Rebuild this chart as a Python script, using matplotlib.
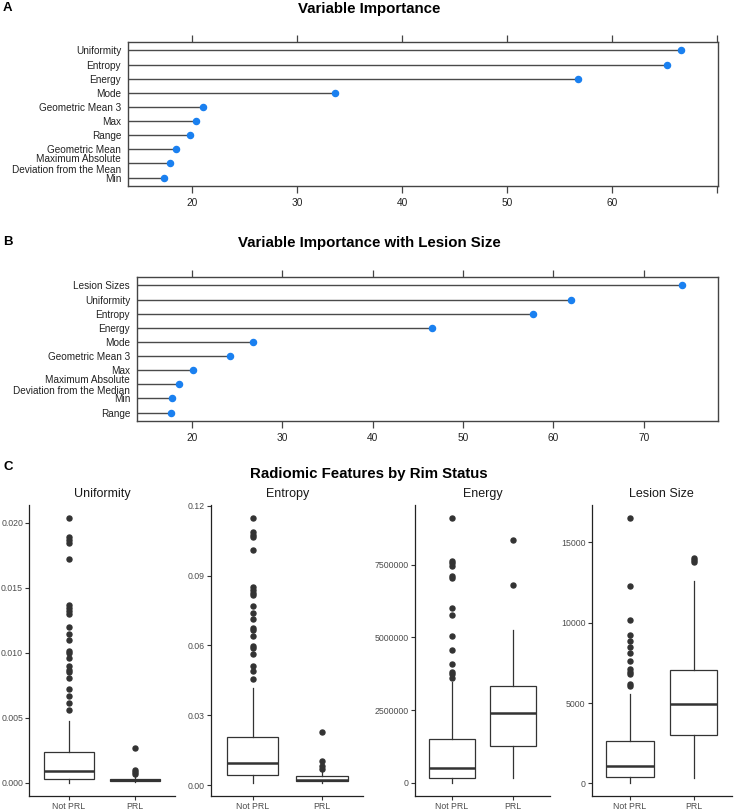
import matplotlib
matplotlib.use("Agg")
import matplotlib.pyplot as plt

plt.rcParams['font.family'] = ['Liberation Sans', 'DejaVu Sans']

# ---------------- data ----------------
a_labels = ["Uniformity", "Entropy", "Energy", "Mode", "Geometric Mean 3", "Max", "Range",
            "Geometric Mean", "Maximum Absolute\nDeviation from the Mean", "Min"]
a_values = [66.6, 65.2, 56.8, 33.6, 21.05, 20.4, 19.85, 18.5, 17.9, 17.3]

b_labels = ["Lesion Sizes", "Uniformity", "Entropy", "Energy", "Mode", "Geometric Mean 3", "Max",
            "Maximum Absolute\nDeviation from the Median", "Min", "Range"]
b_values = [74.2, 62.0, 57.8, 46.55, 26.8, 24.2, 20.15, 18.6, 17.8, 17.75]

groups = ["Not PRL", "PRL"]
features = ["Uniformity", "Entropy", "Energy", "Lesion Size"]

# box stats per feature: [whislo, q1, med, q3, whishi] for Not PRL, PRL
uni_notprl = [0.00001, 0.00033, 0.00089, 0.00235, 0.0048]
uni_prl = [0.00005, 0.00013, 0.00023, 0.00033, 0.0005]
uni_fl_notprl = [0.02036, 0.01888, 0.01872, 0.01847, 0.01719, 0.01369, 0.01349, 0.01323, 0.01303,
                 0.01201, 0.01144, 0.01096, 0.01014, 0.01001, 0.00958, 0.00899, 0.00866, 0.00851,
                 0.00807, 0.00723, 0.00672, 0.00616, 0.00557]
uni_fl_prl = [0.00268, 0.00102, 0.00084, 0.00072]

ent_notprl = [0.001, 0.00415, 0.0093, 0.0206, 0.0418]
ent_prl = [0.001, 0.0017, 0.0024, 0.0039, 0.0056]
ent_fl_notprl = [0.1146, 0.1086, 0.1076, 0.1064, 0.1010, 0.0850, 0.0837, 0.0825, 0.0815, 0.0768,
                 0.0741, 0.0714, 0.0674, 0.0664, 0.0642, 0.0599, 0.0589, 0.0564, 0.0513, 0.0488,
                 0.0456]
ent_fl_prl = [0.0230, 0.0103, 0.0082, 0.0070]

ene_notprl = [5000, 172000, 515000, 1511000, 3450000]
ene_prl = [172000, 1282000, 2404000, 3343000, 5244000]
ene_fl_notprl = [9092000, 7637000, 7557000, 7466000, 7122000, 7042000, 6000000, 5760000,
                 5050000, 4580000, 4100000, 3820000, 3740000, 3600000]
ene_fl_prl = [8336000, 6813000]

les_notprl = [41, 414, 1098, 2631, 5573]
les_prl = [352, 3004, 4910, 7064, 12575]
les_fl_notprl = [16491, 12264, 10193, 9240, 8846, 8494, 8100, 7603, 7127, 6920, 6816, 6194, 6049]
les_fl_prl = [14046, 13922, 13756]

uni_ticks = [0.000, 0.005, 0.010, 0.015, 0.020]
uni_ticklabels = ["0.000", "0.005", "0.010", "0.015", "0.020"]
ent_ticks = [0.00, 0.03, 0.06, 0.09, 0.12]
ent_ticklabels = ["0.00", "0.03", "0.06", "0.09", "0.12"]
ene_ticks = [0, 2500000, 5000000, 7500000]
ene_ticklabels = ["0", "2500000", "5000000", "7500000"]
les_ticks = [0, 5000, 10000, 15000]
les_ticklabels = ["0", "5000", "10000", "15000"]

# ---------------- figure ----------------
W, H = 738, 810
fig = plt.figure(figsize=(W / 100, H / 100), dpi=100)


def add_ax(left, top, right, bottom):
    return fig.add_axes([left / W, 1 - bottom / H, (right - left) / W, (bottom - top) / H])


DOT = '#1a80f0'
LINE = '#4a4a4a'


def lollipop(ax, labels, values, xlim, ticks, ticklabels):
    n = len(labels)
    ys = list(range(n))
    ax.set_xlim(*xlim)
    ax.set_ylim(n - 1 + 0.6, -0.6)
    ax.hlines(ys, xlim[0], values, color=LINE, lw=1.0, zorder=2)
    ax.plot(values, ys, 'o', color=DOT, ms=4.4, zorder=3)
    ax.set_yticks(ys)
    ax.set_yticklabels(labels, fontsize=7.2, color='#222222', linespacing=1.08)
    ax.tick_params(axis='y', length=0, pad=5)
    ax.set_xticks(ticks)
    ax.set_xticklabels(ticklabels, fontsize=7.3, color='#222222')
    ax.tick_params(axis='x', top=True, bottom=True, labeltop=False, labelbottom=True,
                   direction='out', length=5, width=0.9, color='#444444', pad=4)
    for s in ax.spines.values():
        s.set_color('#444444')
        s.set_linewidth(1.0)


axA = add_ax(128, 42, 718, 186)
lollipop(axA, a_labels, a_values, (13.9, 70.1), [20, 30, 40, 50, 60, 70],
         ["20", "30", "40", "50", "60", ""])

axB = add_ax(137, 277, 718, 421)
lollipop(axB, b_labels, b_values, (13.96, 78.2), [20, 30, 40, 50, 60, 70],
         ["20", "30", "40", "50", "60", "70"])

fig.text(369 / W, 1 - 9 / H, "Variable Importance", ha='center', va='center',
         fontsize=10.8, fontweight='bold')
fig.text(369 / W, 1 - 243 / H, "Variable Importance with Lesion Size", ha='center', va='center',
         fontsize=10.8, fontweight='bold')
fig.text(369 / W, 1 - 474 / H, "Radiomic Features by Rim Status", ha='center', va='center',
         fontsize=10.8, fontweight='bold')
fig.text(3 / W, 1 - 8 / H, "A", ha='left', va='center', fontsize=9.5, fontweight='bold')
fig.text(3 / W, 1 - 242 / H, "B", ha='left', va='center', fontsize=9.5, fontweight='bold')
fig.text(3 / W, 1 - 467 / H, "C", ha='left', va='center', fontsize=9.5, fontweight='bold')


def mkstats(st, fl, label):
    return dict(whislo=st[0], q1=st[1], med=st[2], q3=st[3], whishi=st[4], fliers=fl, label=label)


panels = [
    (features[0], uni_notprl, uni_fl_notprl, uni_prl, uni_fl_prl, uni_ticks, uni_ticklabels,
     (29.3, 175)),
    (features[1], ent_notprl, ent_fl_notprl, ent_prl, ent_fl_prl, ent_ticks, ent_ticklabels,
     (211, 363.3)),
    (features[2], ene_notprl, ene_fl_notprl, ene_prl, ene_fl_prl, ene_ticks, ene_ticklabels,
     (415, 550)),
    (features[3], les_notprl, les_fl_notprl, les_prl, les_fl_prl, les_ticks, les_ticklabels,
     (591.7, 731.7)),
]

BOX = '#333333'
for title, s1, f1, s2, f2, ticks, tlabels, (l, r) in panels:
    ax = add_ax(l, 505, r, 796)
    stats = [mkstats(s1, f1, groups[0]), mkstats(s2, f2, groups[1])]
    ax.bxp(stats, positions=[1, 2], widths=0.75, showcaps=False, patch_artist=True,
           boxprops=dict(facecolor='white', edgecolor=BOX, linewidth=0.9),
           medianprops=dict(color=BOX, linewidth=1.8),
           whiskerprops=dict(color=BOX, linewidth=0.9),
           flierprops=dict(marker='o', markerfacecolor=BOX, markeredgecolor=BOX,
                           markersize=3.6, linestyle='none'))
    ax.set_xlim(0.4, 2.6)
    ax.margins(y=0.05)
    ax.autoscale(axis='y')
    ax.set_yticks(ticks)
    ax.set_yticklabels(tlabels)
    ax.set_xticks([1, 2])
    ax.set_xticklabels(groups)
    ax.tick_params(axis='both', labelsize=6.3, labelcolor='#4d4d4d', color='#333333',
                   length=3, width=0.8, pad=1.5)
    for side in ('top', 'right'):
        ax.spines[side].set_visible(False)
    for side in ('left', 'bottom'):
        ax.spines[side].set_color('#222222')
        ax.spines[side].set_linewidth(0.9)
    ax.set_title(title, fontsize=9, color='#1a1a1a', pad=6)

fig.savefig("out.png", dpi=100)
